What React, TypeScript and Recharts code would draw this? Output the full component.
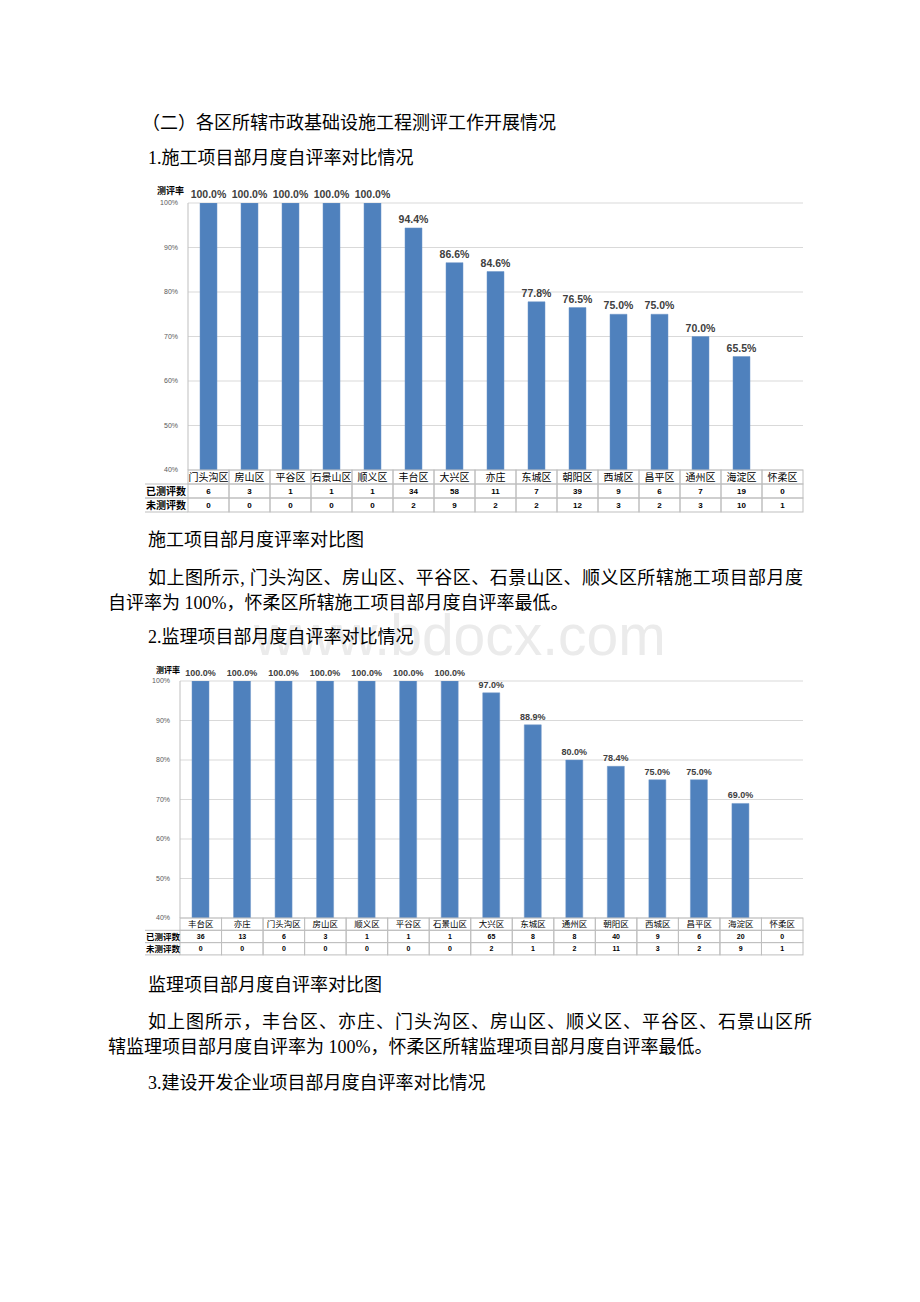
import { Bar, BarChart, CartesianGrid, LabelList, XAxis, YAxis } from "recharts";

const districts1 = ["门头沟区", "房山区", "平谷区", "石景山区", "顺义区", "丰台区", "大兴区", "亦庄", "东城区", "朝阳区", "西城区", "昌平区", "通州区", "海淀区", "怀柔区"];
const rate1 = [100, 100, 100, 100, 100, 94.4, 86.6, 84.6, 77.8, 76.5, 75.0, 75.0, 70.0, 65.5, null];
const done1 = [6, 3, 1, 1, 1, 34, 58, 11, 7, 39, 9, 6, 7, 19, 0];
const notDone1 = [0, 0, 0, 0, 0, 2, 9, 2, 2, 12, 3, 2, 3, 10, 1];

const districts2 = ["丰台区", "亦庄", "门头沟区", "房山区", "顺义区", "平谷区", "石景山区", "大兴区", "东城区", "通州区", "朝阳区", "西城区", "昌平区", "海淀区", "怀柔区"];
const rate2 = [100, 100, 100, 100, 100, 100, 100, 97.0, 88.9, 80.0, 78.4, 75.0, 75.0, 69.0, null];
const done2 = [36, 13, 6, 3, 1, 1, 1, 65, 8, 8, 40, 9, 6, 20, 0];
const notDone2 = [0, 0, 0, 0, 0, 0, 0, 2, 1, 2, 11, 3, 2, 9, 1];

const yTicks = [40, 50, 60, 70, 80, 90, 100];
const rowLabels = ["已测评数", "未测评数"];

const BAR = "#4f81bd";
const BORDER = "#bfbfbf";
const CJK = "'Noto Sans CJK SC', sans-serif";
const BODY = "'Liberation Serif', 'Noto Sans CJK SC', serif";

const build = (names: string[], rates: (number | null)[]) =>
    names.map((name, i) => ({ name, rate: rates[i] }));

type TickOpts = { done: number[]; notDone: number[]; colW: number; rowH: number; labelW: number; catFs: number; numFs: number };

function TableTick(props: any) {
    const { x, y, payload, index, done, notDone, colW, rowH, labelW, catFs, numFs } = props;
    const left = x - colW / 2;
    return (
        <g>
            {[0, 1, 2].map((r) => (
                <rect key={r} x={left} y={y + r * rowH} width={colW} height={rowH} fill="none" stroke={BORDER} strokeWidth={1} />
            ))}
            <text x={x} y={y + rowH / 2} dy="0.36em" textAnchor="middle" fontSize={catFs} fontFamily={CJK} fill="#000">
                {payload.value}
            </text>
            <text x={x} y={y + rowH * 1.5} dy="0.36em" textAnchor="middle" fontSize={numFs} fontWeight="bold" fontFamily="'Liberation Sans', sans-serif" fill="#000">
                {done[index]}
            </text>
            <text x={x} y={y + rowH * 2.5} dy="0.36em" textAnchor="middle" fontSize={numFs} fontWeight="bold" fontFamily="'Liberation Sans', sans-serif" fill="#000">
                {notDone[index]}
            </text>
            {index === 0 &&
                rowLabels.map((lab, r) => (
                    <g key={lab}>
                        <line x1={left - labelW} x2={left} y1={y + (r + 1) * rowH} y2={y + (r + 1) * rowH} stroke={BORDER} />
                        <line x1={left - labelW} x2={left} y1={y + (r + 2) * rowH} y2={y + (r + 2) * rowH} stroke={BORDER} />
                        <text x={left - labelW + 1} y={y + rowH * (r + 1.5)} dy="0.36em" fontSize={catFs} fontWeight="bold" fontFamily={CJK} fill="#000">
                            {lab}
                        </text>
                    </g>
                ))}
        </g>
    );
}

type RateChartProps = {
    data: { name: string; rate: number | null }[];
    opts: TickOpts;
    width: number;
    height: number;
    margin: { top: number; right: number; left: number; bottom: number };
    yWidth: number;
    xHeight: number;
    labelFs: number;
};

function RateChart({ data, opts, width, height, margin, yWidth, xHeight, labelFs }: RateChartProps) {
    return (
        <BarChart width={width} height={height} data={data} margin={margin} barSize={17}>
            <CartesianGrid vertical={false} stroke="#d9d9d9" />
            <XAxis
                dataKey="name"
                interval={0}
                height={xHeight}
                axisLine={false}
                tickLine={false}
                tickSize={0}
                tickMargin={0}
                tick={(p: any) => <TableTick {...p} {...opts} />}
            />
            <YAxis
                domain={[40, 100]}
                ticks={yTicks}
                width={yWidth}
                allowDataOverflow
                axisLine={{ stroke: BORDER }}
                tickLine={false}
                tickMargin={4}
                tickFormatter={(v) => `${v}%`}
                tick={{ fontSize: 7, fill: "#595959", fontFamily: "'Liberation Sans', sans-serif" }}
            />
            <Bar dataKey="rate" fill={BAR} stroke="#6f97c9" strokeWidth={0.5} isAnimationActive={false}>
                <LabelList
                    dataKey="rate"
                    position="top"
                    offset={5}
                    formatter={(v: any) => (v == null ? "" : `${Number(v).toFixed(1)}%`)}
                    style={{ fontSize: labelFs, fontWeight: "bold", fill: "#404040", fontFamily: "'Liberation Sans', sans-serif" }}
                />
            </Bar>
        </BarChart>
    );
}

const line = (top: number, left: number, text: string, width?: number) => (
    <div
        style={{
            position: "absolute",
            top: top - 13,
            left,
            width,
            height: 26,
            lineHeight: "26px",
            fontSize: 18,
            fontFamily: BODY,
            color: "#000",
            whiteSpace: "nowrap",
            textAlign: width ? "justify" : "left",
            textAlignLast: width ? "justify" : "auto",
        }}
    >
        {text}
    </div>
);

const axisTitle = (top: number, left: number, fs: number) => (
    <div style={{ position: "absolute", top, left, fontSize: fs, fontWeight: "bold", fontFamily: CJK, lineHeight: "12px" }}>测评率</div>
);

export default function App() {
    return (
        <div style={{ position: "absolute", left: 0, top: 0, width: 920, height: 1302, background: "#fff", overflow: "hidden" }}>
            <div
                style={{
                    position: "absolute",
                    top: 603,
                    left: 254,
                    fontSize: 57,
                    fontFamily: "'Liberation Sans', sans-serif",
                    color: "#ebebeb",
                    lineHeight: "64px",
                    whiteSpace: "nowrap",
                }}
            >
                www.bdocx.com
            </div>
            {line(123, 142, "（二）各区所辖市政基础设施工程测评工作开展情况")}
            {line(158, 148, "1.施工项目部月度自评率对比情况")}

            <div style={{ position: "absolute", left: 100, top: 180 }}>
                <RateChart
                    data={build(districts1, rate1)}
                    opts={{ done: done1, notDone: notDone1, colW: 615 / 15, rowH: 14, labelW: 43, catFs: 10, numFs: 8 }}
                    width={720}
                    height={340}
                    margin={{ top: 23, right: 17, left: 48, bottom: 8 }}
                    yWidth={40}
                    xHeight={42}
                    labelFs={10.5}
                />
            </div>
            {axisTitle(185, 157, 9)}

            {line(540, 148, "施工项目部月度评率对比图")}
            {line(578, 148, "如上图所示, 门头沟区、房山区、平谷区、石景山区、顺义区所辖施工项目部月度", 655)}
            {line(603, 108, "自评率为 100%，怀柔区所辖施工项目部月度自评率最低。")}
            {line(637, 148, "2.监理项目部月度自评率对比情况")}

            <div style={{ position: "absolute", left: 100, top: 660 }}>
                <RateChart
                    data={build(districts2, rate2)}
                    opts={{ done: done2, notDone: notDone2, colW: 623 / 15, rowH: 12.3, labelW: 35, catFs: 8.5, numFs: 7 }}
                    width={720}
                    height={300}
                    margin={{ top: 21, right: 17, left: 44, bottom: 5 }}
                    yWidth={36}
                    xHeight={37}
                    labelFs={9}
                />
            </div>
            {axisTitle(664, 156, 8)}

            {line(985, 148, "监理项目部月度自评率对比图")}
            {line(1022, 148, "如上图所示，丰台区、亦庄、门头沟区、房山区、顺义区、平谷区、石景山区所", 664)}
            {line(1047, 108, "辖监理项目部月度自评率为 100%，怀柔区所辖监理项目部月度自评率最低。")}
            {line(1083, 148, "3.建设开发企业项目部月度自评率对比情况")}
        </div>
    );
}
